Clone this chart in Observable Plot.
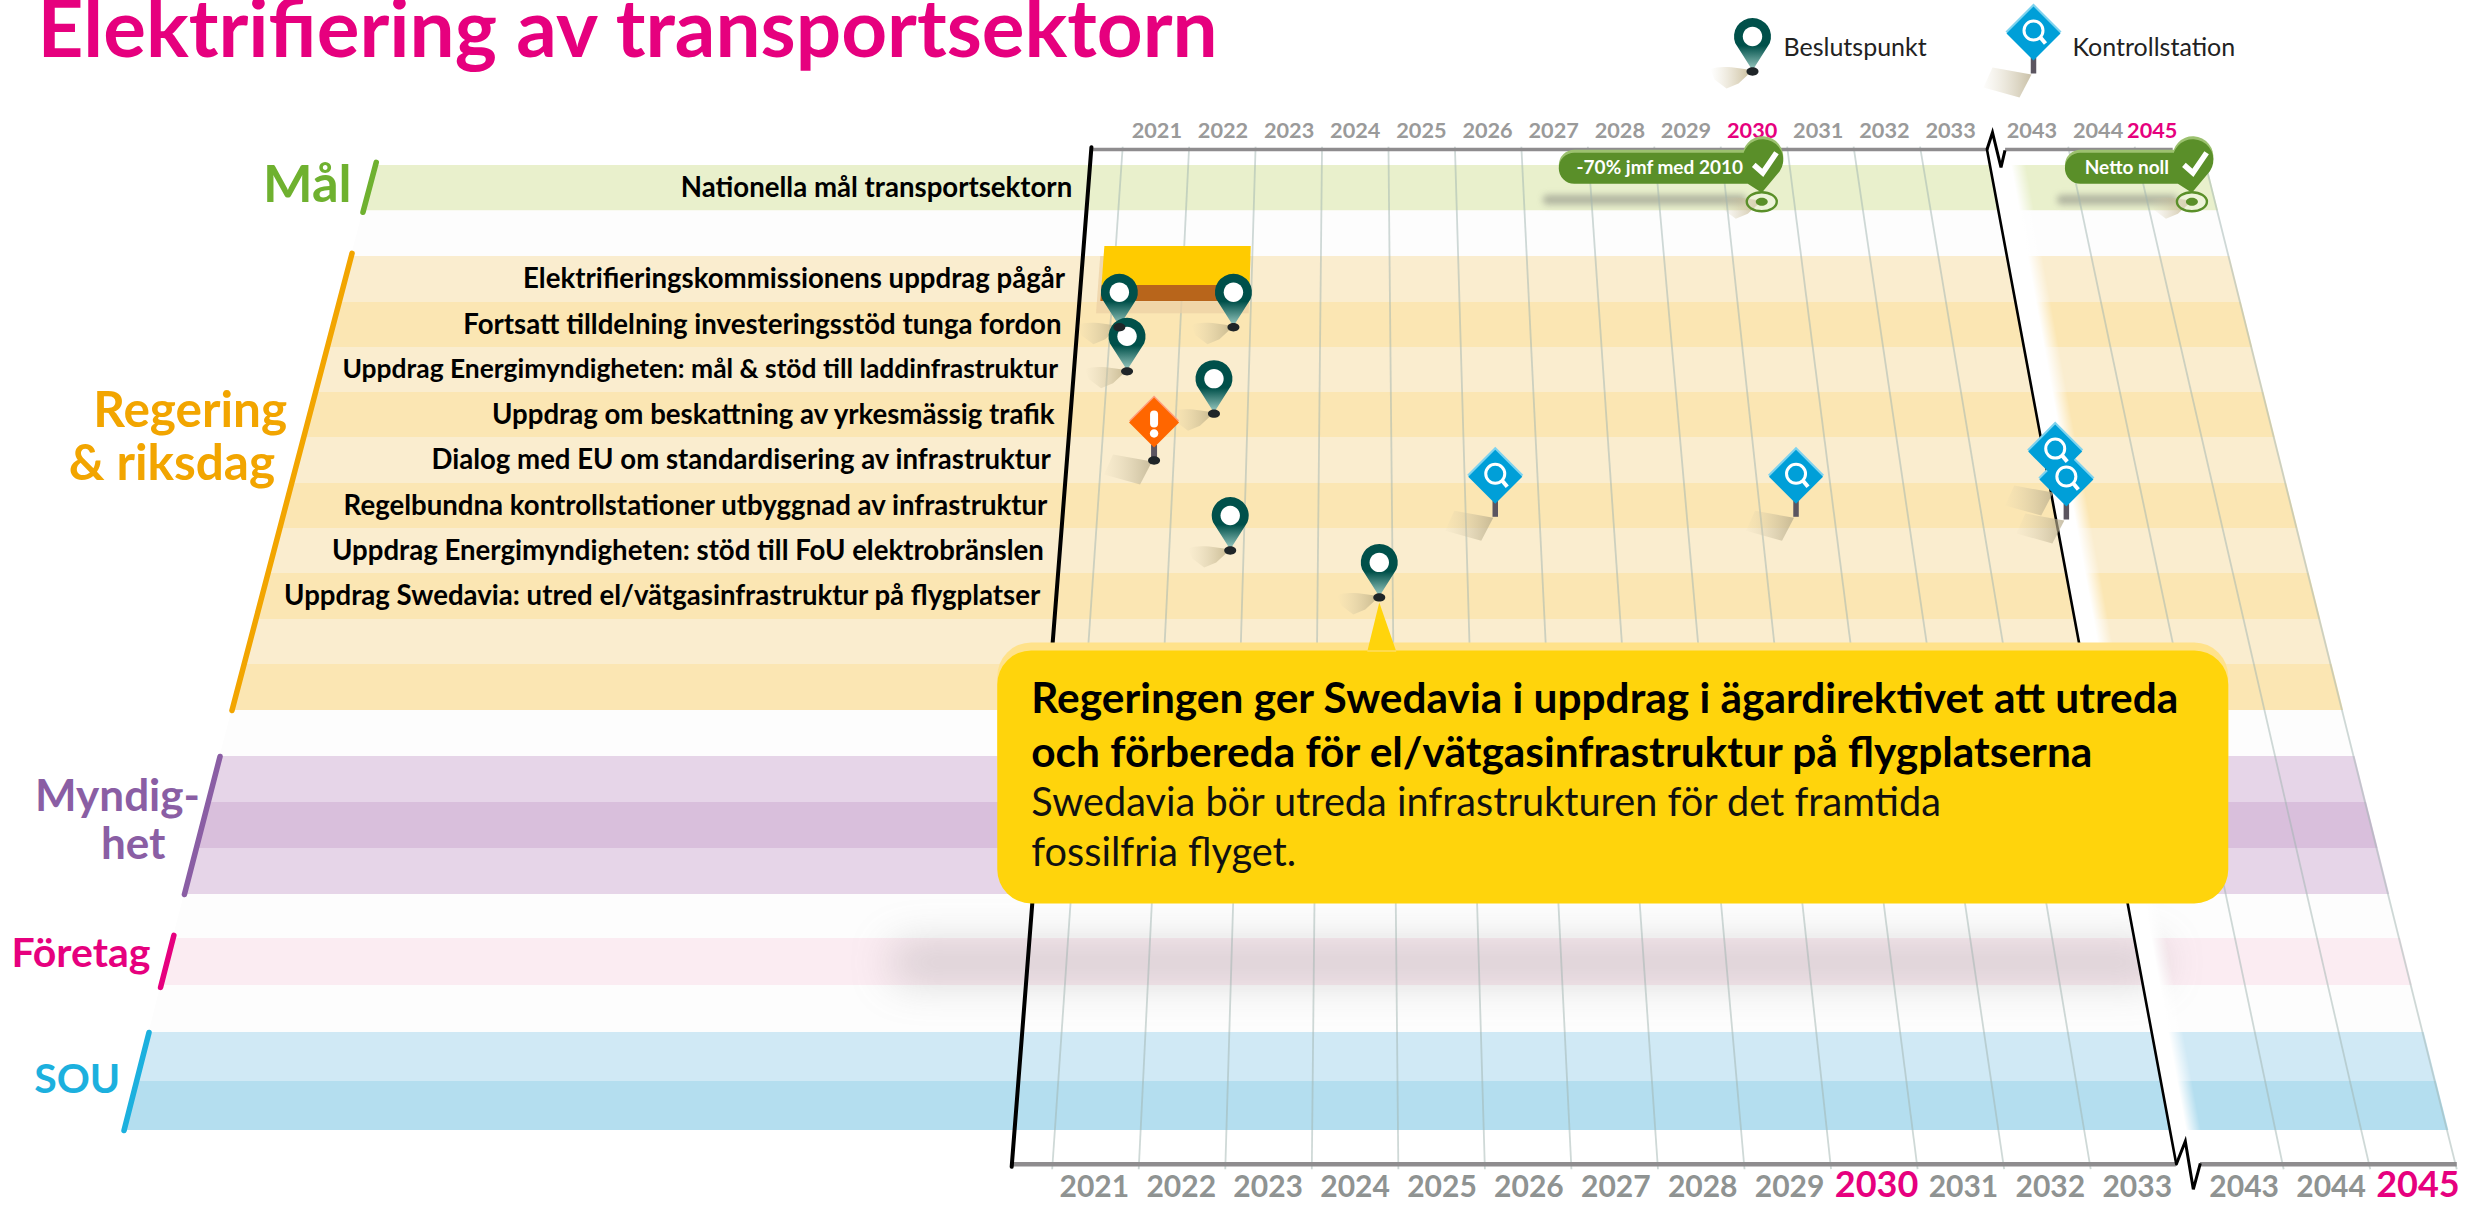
<!DOCTYPE html>
<html lang="sv">
<head>
<meta charset="utf-8">
<title>Elektrifiering av transportsektorn</title>
<style>
html,body{margin:0;padding:0;background:#fff;overflow:hidden}
svg{display:block}
</style>
<script src="https://cdn.jsdelivr.net/npm/d3@7"></script>
<script src="https://cdn.jsdelivr.net/npm/@observablehq/plot@0.6"></script>
</head>
<body>
<div id="chart"></div>
<script>
// ---------- data ----------
const chartTitle = "Elektrifiering av transportsektorn";
const yearsBefore = [2021,2022,2023,2024,2025,2026,2027,2028,2029,2030,2031,2032,2033];
const yearsAfter = [2043,2044,2045];
const accentYears = [2030,2045];

const bandRows = d3.range(0,21);
const bandKinds = ["goal","blank","orangeA","orangeB","orangeA","orangeB","orangeA","orangeB","orangeA","orangeB","orangeA","orangeB",
  "blank","purpleA","purpleB","purpleA","blank","pink","blank","blueA","blueB"];

const rowLabels = ["Nationella mål transportsektorn","Elektrifieringskommissionens uppdrag pågår","Fortsatt tilldelning investeringsstöd tunga fordon",
  "Uppdrag Energimyndigheten: mål & stöd till laddinfrastruktur","Uppdrag om beskattning av yrkesmässig trafik",
  "Dialog med EU om standardisering av infrastruktur","Regelbundna kontrollstationer utbyggnad av infrastruktur",
  "Uppdrag Energimyndigheten: stöd till FoU elektrobränslen","Uppdrag Swedavia: utred el/vätgasinfrastruktur på flygplatser"];
const rowLabelRows = [0,2,3,4,5,6,7,8,9];

const groupNames = ["Mål","Regering\n& riksdag\u00a0","Myndig-","het","Företag","SOU"];
const groupNameRows = [0.4,5.98,13.85,14.9,17.3,19.94];
const groupKinds = ["goal","orange","purple","purple","pink","blue"];
const groupSpanStart = [-0.07,1.93,13,16.93,19];
const groupSpanEnd = [1.03,12,16,18.04,21];
const groupSpanKinds = ["goal","orange","purple","pink","blue"];

const decisionYears = [2021.13,2022.76,2021.28,2022.53,2022.82,2024.82];
const decisionRows = [3.55,3.55,4.53,5.47,8.49,9.52];
const warningYears = [2021.73];
const warningRows = [6.5];
const controlYears = [2026.4,2030.48,2034.06,2034.14];
const controlRows = [7.74,7.74,7.18,7.8];
const goalYears = [2030.52,2045.66];
const goalRows = [0.8,0.8];
const goalTexts = ["-70% jmf med 2010","Netto noll"];

const taskStart = [2020.84];
const taskEnd = [2022.98];

const legendNames = ["Beslutspunkt","Kontrollstation"];
const calloutBold = ["Regeringen ger Swedavia i uppdrag i ägardirektivet att utreda","och förbereda för el/vätgasinfrastruktur på flygplatserna"];
const calloutPlain = ["Swedavia bör utreda infrastrukturen för det framtida","fossilfria flyget."];

// ---------- styles ----------
const bandFill = {goal:"#e9f0cc",blank:"#fdfdfd",orangeA:"#faedcf",orangeB:"#fbe6b3",purpleA:"#e6d5e8",purpleB:"#d9bfdc",pink:"#fbecf2",blueA:"#d0e9f5",blueB:"#b4deef"};
const groupInk = {goal:"#6fb12f",orange:"#f2a500",purple:"#8a5ea4",pink:"#e6007e",blue:"#1cb0de"};
const groupSize = [52.5,49.5,44,44,41,41];
const groupDx = [-19,-16.5,-10,-32,-19,-17];
const rowLabelSize = [27.6,27.6,27.6,26.4,27.6,27.6,27.6,27.6,27.6];
const font = "Lato";
const magenta = "#e6007e";
const leaf = "#5a8f29";

// ---------- scales and the perspective of the floor ----------
const W = 2468, H = 1205;
const rowDomain = d3.range(-1,24);
const rowRange = [119.6,165,210.4,256,302,347,392,437,483,528,573,619,664,710,756,802,848,894,938,985,1032,1081,1130,1179,1228];
const rowPx = d3.scaleLinear(rowDomain,rowRange);
const xTop0 = 1122, xTopStep = 66.5, xShift = -70, xGrow = 19.95, yA = 149, yB = 1015;
const xUnit = px => (px-xTop0)/xTopStep;
const floor = (u,row) => { const t=(rowPx(row)-yA)/yB; return xUnit(xTop0+xShift*t+u*(xTopStep+xGrow*t)); };
const yearU = y => y<2040 ? y-2021 : y-2043+13.23;
const edgeLeftU = row => -11.17+0.33*(rowPx(row)-yA)/yB;
const edgeRightU = 16.25;
const rowTopAxis = -0.354, rowBottomAxis = 21.69, rowTopLabel = -0.75, rowBottomLabel = 22.17;
const axisU = -0.47, breakU = 13, resumeU = 13.28;

// ---------- glyphs, anchored on the data point ----------
const path = (fn) => ({draw(c){fn(c);}});
const oval = (rx,ry,oy=0) => path(c=>{ const k=.5523;
  c.moveTo(rx,oy);c.bezierCurveTo(rx,oy+ry*k,rx*k,oy+ry,0,oy+ry);c.bezierCurveTo(-rx*k,oy+ry,-rx,oy+ry*k,-rx,oy);
  c.bezierCurveTo(-rx,oy-ry*k,-rx*k,oy-ry,0,oy-ry);c.bezierCurveTo(rx*k,oy-ry,rx,oy-ry*k,rx,oy);c.closePath();});
const poly = (...p) => path(c=>{p.forEach(([x,y],i)=>i?c.lineTo(x,y):c.moveTo(x,y));c.closePath();});
const open = (...p) => path(c=>{p.forEach(([x,y],i)=>i?c.lineTo(x,y):c.moveTo(x,y));});
const rounded = (c,x0,y0,x1,y1,r) => {c.moveTo(x0+r,y0);c.lineTo(x1-r,y0);c.arcTo(x1,y0,x1,y0+r,r);c.lineTo(x1,y1-r);c.arcTo(x1,y1,x1-r,y1,r);c.lineTo(x0+r,y1);c.arcTo(x0,y1,x0,y1-r,r);c.lineTo(x0,y0+r);c.arcTo(x0,y0,x0+r,y0,r);c.closePath();};
const box = (x0,y0,x1,y1,r) => path(c=>rounded(c,x0,y0,x1,y1,r));
const diamond = (oy,h) => poly([0,oy-h],[h,oy],[0,oy+h],[-h,oy]);
const pinBody = path(c=>{c.moveTo(-17.2,-28.2);c.arc(0,-35,18.5,Math.PI*0.88,Math.PI*2.12);c.lineTo(1.2,-3);c.lineTo(-1.2,-3);c.closePath();});
const pinEye = oval(9.7,9.7,-35);
const ball = oval(6,4.2);
const wedge = path(c=>{c.moveTo(0,-1);c.bezierCurveTo(-12,-3,-32,-7,-42,-2);c.lineTo(-38,8);c.lineTo(-26,17);c.lineTo(-14,12);c.closePath();});
const plate = poly([-2,1],[-14,24],[-50,14],[-41,-6]);
const stick = open([0,-16],[0,0]);
const lensRing = oval(9.5,9.5,-43);
const lensGrip = open([7,-36],[12,-30]);
const bangBar = box(-4,-50,4,-33,4);
const bangDot = oval(4.2,4.2,-27);
const tick = open([-8,-37],[1,-29],[14.7,-49]);
const ring = oval(15,9.5);
const core = oval(6,4);
const flag = (left) => path(c=>{
  c.moveTo(0,-9); c.lineTo(-14,-18); c.lineTo(left+15.5,-18); c.arcTo(left,-18,left,-33.5,15.5);
  c.arcTo(left,-49,left+15.5,-49,15.5); c.lineTo(-19,-49);
  c.arc(1,-42,20.5,Math.PI*1.107,Math.PI*2.19); c.closePath();});
const zigTop = open([0,0],[5.5,-17],[14,18],[18,1]);
const zigBottom = open([0,0],[9,-23],[17,25],[24,-1]);

const placed = (years,rows) => years.map((y,i)=>({x:floor(yearU(y),rows[i]),y:rows[i]}));
const at = {x:"x",y:"y"};
const layer = (data,pos,symbol,o) => Plot.dot(data,{...pos,symbol,...o});

const pinShadowMarks = (d,p) => [layer(d,p,wedge,{fill:"url(#wedgeGrad)"})];
const pinMarks = (d,p) => [layer(d,p,pinBody,{fill:"url(#pinGrad)"}),layer(d,p,pinEye,{fill:"#fff"}),layer(d,p,ball,{fill:"#1f2528"})];
const plateMarks = (d,p) => [layer(d,p,plate,{fill:"url(#plateGrad)"})];
const controlMarks = (d,p) => [
  layer(d,p,stick,{stroke:"#5b5560",strokeWidth:5.5,fill:"none"}),
  layer(d,p,diamond(-42,28),{fill:"#7fd3ef"}),
  layer(d,p,diamond(-40,27),{fill:"#009fd8"}),
  layer(d,p,lensRing,{stroke:"#fff",strokeWidth:3,fill:"none"}),
  layer(d,p,lensGrip,{stroke:"#fff",strokeWidth:4,fill:"none"})];
const warningMarks = (d,p) => [
  layer(d,p,open([0,-16],[0,0]),{stroke:"#5b5560",strokeWidth:6,fill:"none"}),
  layer(d,p,ball,{fill:"#1f2528"}),
  layer(d,p,diamond(-40,25),{fill:"#ff9e7e"}),
  layer(d,p,diamond(-38,25),{fill:"#ff6600"}),
  layer(d,p,bangBar,{fill:"#fff"}),layer(d,p,bangDot,{fill:"#fff"})];

// ---------- derived tables ----------
const bands = bandRows.map((r,i)=>({kind:bandKinds[i],pts:[r,r+1].map(q=>({y:q,x1:floor(edgeLeftU(q),q),x2:floor(edgeRightU,q)}))}));
const gridU = [...yearsBefore.map(yearU),...yearsAfter.map(y=>yearU(y)+1)];
const gridLines = gridU.map(u=>({x1:floor(u,rowTopAxis-0.06),x2:floor(u,rowBottomAxis+0.1),y1:rowTopAxis-0.06,y2:rowBottomAxis+0.1}));
const topLabels = [...yearsBefore,...yearsAfter].map(y=>({year:y,x:floor(yearU(y)+.5,rowTopLabel),y:rowTopLabel}));
const bottomLabels = [...yearsBefore,...yearsAfter].map(y=>({year:y,x:floor(yearU(y)+.5,rowBottomLabel),y:rowBottomLabel}));
const isAccent = d => accentYears.includes(d.year);
const segs = (spans,row) => spans.map(([a,b])=>({x1:floor(a,row),x2:floor(b,row),y:row}));
const labelsTable = rowLabels.map((t,i)=>({t,size:rowLabelSize[i],x:floor(axisU,rowLabelRows[i]+.5),y:rowLabelRows[i]+.5}));
const groupTable = groupNames.map((t,i)=>({t,kind:groupKinds[i],x:floor(edgeLeftU(groupNameRows[i]),groupNameRows[i]),y:groupNameRows[i]}));
const spanTable = groupSpanStart.flatMap((a,i)=>[a,groupSpanEnd[i]].map(q=>({kind:groupSpanKinds[i],x:floor(edgeLeftU(q),q),y:q})));
const decisions = placed(decisionYears,decisionRows);
const warnings = placed(warningYears,warningRows);
const controls = placed(controlYears,controlRows);
const goals = placed(goalYears,goalRows);
const swedavia = [decisions[5]];
const slab = (rows,us) => rows.map((q,i)=>({y:q,x1:floor(us[0],q),x2:floor(us[1],q)}));
const barU = [yearU(taskStart[0]),yearU(taskEnd[0])];

const calloutTop = path(c=>rounded(c,-382,45,849,200,34));
const calloutBody = path(c=>{
  rounded(c,-382,53,849,306,34);
  c.moveTo(0,5);c.lineTo(-12,54);c.lineTo(17,54);c.closePath();
});

const legendPin = {frameAnchor:"top-left",dx:1752,dy:71};
const legendCtl = {frameAnchor:"top-left",dx:2033,dy:73};

const one = [0];
const areaOpts = {x1:"x1",x2:"x2",y1:"y",y2:"y"};

const marks = [
  // floor
  ...bands.map(b=>Plot.area(b.pts,{...areaOpts,fill:bandFill[b.kind]})),
  layer(swedavia,at,box(-490,345,785,385,20),{fill:"#6f6f6f",fillOpacity:.26,imageFilter:"blur(20px)"}),
  // goal shadows
  layer(goals.slice(0,1),at,box(-219,-7,-15,3,5),{fill:"#666",fillOpacity:.42,imageFilter:"blur(3px)"}),
  layer(goals.slice(1),at,box(-135,-7,-14,3,5),{fill:"#666",fillOpacity:.42,imageFilter:"blur(3px)"}),
  layer(goals,at,wedge,{fill:"url(#wedgeGrad)"}),
  // grid
  Plot.link(gridLines,{x1:"x1",x2:"x2",y1:"y1",y2:"y2",stroke:"#9fb4b0",strokeOpacity:.5,strokeWidth:1.8}),
  // gap at the axis break
  Plot.area(slab([rowTopAxis,rowBottomAxis],[breakU,breakU+.8]),{...areaOpts,fill:"url(#gapGrad)"}),
  // axes
  Plot.ruleY(segs([[axisU,breakU]],rowTopAxis),{x1:"x1",x2:"x2",y:"y",stroke:"#8e8c8e",strokeWidth:3.5}),
  Plot.ruleY(segs([[resumeU,edgeRightU-.45]],rowTopAxis),{x1:"x1",x2:"x2",y:"y",stroke:"#8e8c8e",strokeWidth:3.5}),
  Plot.ruleY(segs([[axisU,breakU]],rowBottomAxis),{x1:"x1",x2:"x2",y:"y",stroke:"#8e8c8e",strokeWidth:4.5}),
  Plot.ruleY(segs([[breakU+.28,edgeRightU]],rowBottomAxis),{x1:"x1",x2:"x2",y:"y",stroke:"#8e8c8e",strokeWidth:4.5}),
  Plot.line([rowTopAxis-.05,rowBottomAxis+.05].map(q=>({x:floor(axisU,q),y:q})),{x:"x",y:"y",stroke:"#000",strokeWidth:4}),
  Plot.line([rowTopAxis,rowBottomAxis].map(q=>({x:floor(breakU,q),y:q})),{x:"x",y:"y",stroke:"#000",strokeWidth:2.6}),
  layer([{x:floor(breakU,rowTopAxis),y:rowTopAxis}],at,zigTop,{stroke:"#000",strokeWidth:3,fill:"none"}),
  layer([{x:floor(breakU,rowBottomAxis),y:rowBottomAxis}],at,zigBottom,{stroke:"#000",strokeWidth:3,fill:"none"}),
  // year labels
  Plot.text(topLabels.filter(d=>!isAccent(d)),{x:"x",y:"y",text:d=>String(d.year),fontFamily:font,fontWeight:700,fontSize:21.7,fill:"#9a9a9a"}),
  ...accentYears.map((year,i)=>Plot.text(topLabels.filter(d=>d.year===year),{x:"x",y:"y",dx:[0,-12][i],text:d=>String(d.year),fontFamily:font,fontWeight:700,fontSize:21.7,fill:magenta})),
  Plot.text(bottomLabels.filter(d=>!isAccent(d)),{x:"x",y:"y",text:d=>String(d.year),fontFamily:font,fontWeight:700,fontSize:30,fill:"#8f9392"}),
  Plot.text(bottomLabels.filter(isAccent),{x:"x",y:"y",dy:-2,text:d=>String(d.year),fontFamily:font,fontWeight:700,fontSize:36,fill:magenta}),
  // row and group labels
  Plot.text(labelsTable,{x:"x",y:"y",text:"t",textAnchor:"end",dx:-16,fontFamily:font,fontWeight:700,fontSize:d=>d.size,fill:"#000"}),
  ...groupTable.map((d,i)=>Plot.text([d],{x:"x",y:"y",text:"t",textAnchor:"end",dx:groupDx[i],lineHeight:1.07,fontFamily:font,fontWeight:700,fontSize:groupSize[i],fill:groupInk[d.kind]})),
  ...["goal","orange","purple","pink","blue"].map(k=>
    Plot.line(spanTable.filter(d=>d.kind===k),{x:"x",y:"y",stroke:groupInk[k],strokeWidth:5.5,strokeLinecap:"round"})),
  // the commission bar
  Plot.area(slab([2,3.25],[barU[0]-.05,barU[1]]),{...areaOpts,fill:"#ecd0a4",fillOpacity:.75}),
  Plot.area(slab([2.63,2.98],barU),{...areaOpts,fill:"#b8651b"}),
  Plot.area(slab([1.78,2.63],barU),{...areaOpts,fill:"#ffcb00"}),
  // markers
  ...pinShadowMarks(decisions,at),
  ...plateMarks(warnings,at),
  ...plateMarks(controls,at),
  ...pinMarks(decisions,at),
  ...warningMarks(warnings,at),
  ...controlMarks(controls,at),
  // goal flags
  ...[-203,-127].flatMap((left,i)=>{const d=[goals[i]];return [
    layer(d,at,ring,{stroke:leaf,strokeWidth:2.4,fill:"#fff",fillOpacity:.25}),
    layer(d,at,core,{fill:leaf}),
    layer(d,{...at,dy:-3},flag(left),{fill:"#9cc16f"}),
    layer(d,at,flag(left),{fill:leaf}),
    layer(d,at,tick,{stroke:"#fff",strokeWidth:5.5,fill:"none"})];}),
  ...[-102,-65].map((dx,i)=>Plot.text([goals[i]],{x:"x",y:"y",text:()=>goalTexts[i],dx,dy:-34,fontFamily:font,fontWeight:700,fontSize:19,fill:"#fff"})),
  // callout
  layer(swedavia,at,calloutTop,{fill:"#ffe28a"}),
  layer(swedavia,at,calloutBody,{fill:"#ffd40c"}),
  ...calloutBold.map((t,i)=>Plot.text([t],{x:()=>swedavia[0].x,y:()=>swedavia[0].y,text:d=>d,textAnchor:"start",dx:-348,dy:[102,156][i],fontFamily:font,fontWeight:700,fontSize:42.4,fill:"#000"})),
  ...calloutPlain.map((t,i)=>Plot.text([t],{x:()=>swedavia[0].x,y:()=>swedavia[0].y,text:d=>d,textAnchor:"start",dx:-348,dy:[206,256][i],fontFamily:font,fontWeight:400,fontSize:39.7,fill:"#111"})),
  // legend and title
  ...pinShadowMarks(one,legendPin),...pinMarks(one,legendPin),
  ...plateMarks(one,legendCtl),...controlMarks(one,legendCtl),
  Plot.text([legendNames[0]],{frameAnchor:"top-left",dx:1783,dy:47,text:d=>d,textAnchor:"start",lineAnchor:"middle",fontFamily:font,fontSize:25,fill:"#222"}),
  Plot.text([legendNames[1]],{frameAnchor:"top-left",dx:2072,dy:47,text:d=>d,textAnchor:"start",lineAnchor:"middle",fontFamily:font,fontSize:25,fill:"#222"}),
  Plot.text([chartTitle],{frameAnchor:"top-left",dx:37,dy:31,text:d=>d,textAnchor:"start",lineAnchor:"middle",fontFamily:font,fontWeight:700,fontSize:80,fill:magenta})
];

const svg = Plot.plot({
  width:W,height:H,margin:0,
  x:{domain:[xUnit(0),xUnit(W)],range:[0,W],axis:null},
  y:{domain:rowDomain,range:rowRange,type:"linear",axis:null},
  marks
});
svg.style.background="#fff";
svg.style.maxWidth="none";

// gradients the marks refer to by url()
const defs = d3.select(svg).insert("defs",":first-child");
const grad = (id,attrs,stops)=>{const g=defs.append("linearGradient").attr("id",id);Object.entries(attrs).forEach(([k,v])=>g.attr(k,v));
  stops.forEach(([o,c,a])=>g.append("stop").attr("offset",o).attr("stop-color",c).attr("stop-opacity",a));};
grad("pinGrad",{x1:0,y1:0,x2:0,y2:1},[[.55,"#00504a",1],[1,"#93c4bc",1]]);
grad("wedgeGrad",{x1:1,y1:0,x2:0,y2:0},[[0,"#bdae84",.85],[1,"#d8ceb0",0]]);
grad("plateGrad",{x1:1,y1:0,x2:0,y2:0},[[0,"#b7ab8a",.75],[1,"#d8ceb0",.05]]);
grad("gapGrad",{gradientUnits:"userSpaceOnUse",x1:1990,y1:149,x2:2022,y2:143.2},[[.55,"#fff",1],[1,"#fff",0]]);

document.getElementById("chart").append(svg);
</script>
</body>
</html>
